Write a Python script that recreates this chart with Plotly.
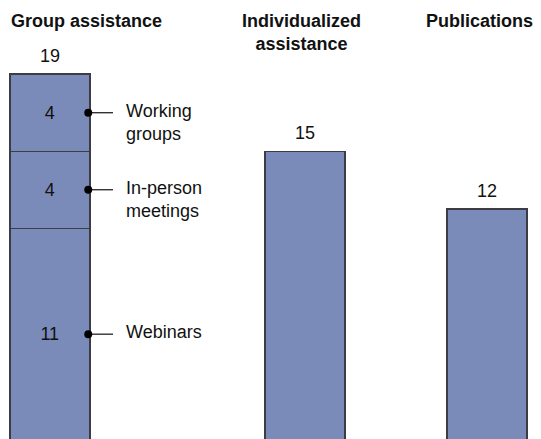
import plotly.graph_objects as go

# ---- data ----
categories = ["Group assistance", "Individualized<br>assistance", "Publications"]
group_segments = ["Webinars", "In-person<br>meetings", "Working<br>groups"]
group_values = [11, 4, 4]
other_values = [15, 12]

# ---- layout constants ----
W, H = 541, 439
OFF = 8  # page body margin
bar_pos = [49.75, 305, 487]
bar_w = 80
fill = "#7a8bba"
edge = "#3c3c44"
font_fam = "Arial, Liberation Sans, sans-serif"
fs = 18
y_lo, y_hi = -0.36, 22.44

fig = go.Figure()

# stacked Group assistance
base = 0
centers = []
for name, v in zip(group_segments, group_values):
    fig.add_trace(go.Bar(
        x=[bar_pos[0]], y=[v], width=bar_w, name=name,
        marker=dict(color=fill, line=dict(color=edge, width=1.5)),
        text=[str(v)], textposition="inside", insidetextanchor="middle",
        textfont=dict(family=font_fam, size=fs, color="#111"),
        hoverinfo="skip", showlegend=False))
    centers.append(base + v / 2)
    base += v

# other bars
fig.add_trace(go.Bar(
    x=bar_pos[1:], y=other_values, width=bar_w,
    marker=dict(color=fill, line=dict(color=edge, width=1.5)),
    hoverinfo="skip", showlegend=False))

# totals above bars
totals = [sum(group_values)] + other_values
for xp, t in zip(bar_pos, totals):
    fig.add_annotation(x=xp, y=t, text=str(t), showarrow=False,
                       yanchor="bottom", yshift=6,
                       font=dict(family=font_fam, size=fs, color="#111"))

# connectors + segment labels
edge_x = bar_pos[0] + bar_w / 2 - 1.5
for name, c in zip(group_segments, centers):
    fig.add_trace(go.Scatter(
        x=[edge_x, 113], y=[c, c], mode="lines",
        line=dict(color="#111", width=1.2), hoverinfo="skip", showlegend=False))
    fig.add_trace(go.Scatter(
        x=[edge_x], y=[c], mode="markers",
        marker=dict(color="#000", size=8), hoverinfo="skip", showlegend=False))
    fig.add_annotation(x=124, y=c, text=name, showarrow=False,
                       xanchor="left", yanchor="top", yshift=14, align="left",
                       font=dict(family=font_fam, size=fs, color="#111"))

# column titles
title_x = [9, 301, 479]
title_anchor = ["left", "center", "center"]
for t, xp, xa in zip(categories, title_x, title_anchor):
    fig.add_annotation(x=xp, y=1, xref="x", yref="paper", text="<b>" + t + "</b>",
                       showarrow=False, xanchor=xa, yanchor="top", yshift=-1,
                       align="center",
                       font=dict(family=font_fam, size=fs, color="#111"))

fig.update_layout(
    width=W - OFF, height=H, barmode="stack",
    margin=dict(l=0, r=0, t=0, b=0),
    paper_bgcolor="white", plot_bgcolor="white",
    xaxis=dict(range=[OFF, W], visible=False, fixedrange=True),
    yaxis=dict(range=[y_lo, y_hi], visible=False, fixedrange=True),
)
fig.write_html("out.html")
